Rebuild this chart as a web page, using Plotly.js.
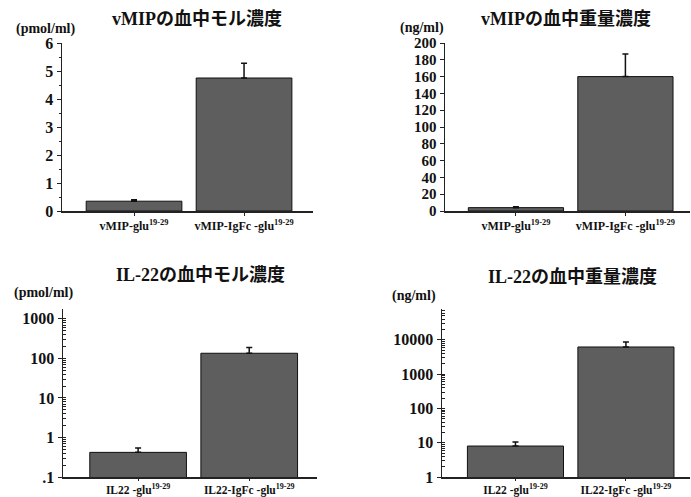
<!DOCTYPE html>
<html><head><meta charset="utf-8">
<script src="https://cdn.plot.ly/plotly-3.0.1.min.js"></script>
<style>html,body{margin:0;padding:0;background:#fff}#c{width:691px;height:497px}</style>
</head><body><div id="c"></div>
<script>
// ---- data ----
const vmipCats = ['vMIP-glu<sup>19-29</sup>', 'vMIP-IgFc -glu<sup>19-29</sup>'];
const il22Cats = ['IL22 -glu<sup>19-29</sup>', 'IL22-IgFc -glu<sup>19-29</sup>'];
const vmipMolar = [0.35, 4.75];
const vmipMolarErr = [0.05, 0.53];
const vmipMass = [4, 160];
const vmipMassErr = [1, 27];
const il22Molar = [0.42, 135];
const il22MolarErr = [0.12, 55];
const il22Mass = [8, 6200];
const il22MassErr = [2.5, 2400];
const titles = ['vMIPの血中モル濃度', 'vMIPの血中重量濃度', 'IL-22の血中モル濃度', 'IL-22の血中重量濃度'];
const units = ['(pmol/ml)', '(ng/ml)', '(pmol/ml)', '(ng/ml)'];
const linTicksMolar = [0, 1, 2, 3, 4, 5, 6];
const linTicksMass = [0, 20, 40, 60, 80, 100, 120, 140, 160, 180, 200];
const logTicksMolar = [0.1, 1, 10, 100, 1000];
const logTextMolar = ['.1', '1', '10', '100', '1000'];
const logTicksMass = [1, 10, 100, 1000, 10000];
const logTextMass = ['1', '10', '100', '1000', '10000'];

const W = 691, H = 497;
const serif = 'Liberation Serif, Noto Sans CJK JP, serif';
const barColor = '#5e5e5e';
const b = s => '<b>' + s + '</b>';

function barTrace(x, y, err, xa, ya) {
  return {
    type: 'bar', x: x, y: y, xaxis: xa, yaxis: ya, width: 0.87,
    marker: {color: barColor, line: {color: '#111', width: 1}},
    error_y: {type: 'data', symmetric: false, array: err, arrayminus: err.map(() => 0),
              color: '#111', thickness: 1.5, width: 3},
    hoverinfo: 'none', showlegend: false
  };
}

const data = [
  barTrace(vmipCats, vmipMolar, vmipMolarErr, 'x', 'y'),
  barTrace(vmipCats, vmipMass, vmipMassErr, 'x2', 'y2'),
  barTrace(il22Cats, il22Molar, il22MolarErr, 'x3', 'y3'),
  barTrace(il22Cats, il22Mass, il22MassErr, 'x4', 'y4')
];

const tickFont = {family: serif, size: 16, color: '#111', weight: 'bold'};
const catFont = {family: serif, size: 12, color: '#111', weight: 'bold'};

function xa(cats, d0, d1, r0, r1, anchor, extra) {
  return Object.assign({domain: [d0 / W, d1 / W], range: [r0, r1], anchor: anchor, type: 'category',
    tickvals: cats, ticktext: cats.map(b),
    showline: true, linecolor: '#222', linewidth: 1.5, ticks: 'outside', ticklen: 3,
    tickcolor: '#222', tickfont: catFont, showgrid: false, zeroline: false, fixedrange: true}, extra || {});
}
function ya(top, bottom, anchor, vals, texts, extra) {
  return Object.assign({domain: [1 - bottom / H, 1 - top / H], anchor: anchor,
    tickvals: vals, ticktext: texts.map(b),
    showline: true, linecolor: '#222', linewidth: 1.5, ticks: 'outside', ticklen: 4,
    tickcolor: '#222', tickfont: tickFont, showgrid: false, zeroline: false, fixedrange: true}, extra);
}

const bottomCat = {ticklen: 2, tickfont: Object.assign({}, catFont, {size: 11.5})};

const layout = {
  width: W, height: H, margin: {l: 0, r: 0, t: 0, b: 0},
  paper_bgcolor: '#fff', plot_bgcolor: 'rgba(0,0,0,0)', bargap: 0,
  xaxis: xa(vmipCats, 62, 313, -0.655, 1.627, 'y'),
  yaxis: ya(43, 211, 'x', linTicksMolar, linTicksMolar.map(String), {range: [0, 6],
    minor: {dtick: 0.5, ticks: 'outside', ticklen: 2, tickcolor: '#222'}}),
  xaxis2: xa(vmipCats, 445, 690, -0.648, 1.59, 'y2'),
  yaxis2: ya(43, 211, 'x2', linTicksMass, linTicksMass.map(String), {range: [0, 200],
    tickfont: Object.assign({}, tickFont, {size: 15})}),
  xaxis3: xa(il22Cats, 63, 317, -0.676, 1.61, 'y3', bottomCat),
  yaxis3: ya(309, 477, 'x3', logTicksMolar, logTextMolar, {type: 'log', range: [-1, 3.25],
    minor: {dtick: 'D1', ticks: 'inside', ticklen: 3, tickcolor: '#222'}}),
  xaxis4: xa(il22Cats, 442, 690, -0.665, 1.58, 'y4', bottomCat),
  yaxis4: ya(309, 477, 'x4', logTicksMass, logTextMass, {type: 'log', range: [0, 4.9],
    minor: {dtick: 'D1', ticks: 'inside', ticklen: 3, tickcolor: '#222'}}),
  annotations: []
};

const titlePos = [[197, 19], [566, 19], [201, 275], [572, 277]];
const unitPos = [[45, 29], [422, 28], [43, 293], [414, 296]];
for (let i = 0; i < 4; i++) {
  layout.annotations.push({text: b(titles[i]), x: titlePos[i][0] / W, y: 1 - titlePos[i][1] / H,
    xref: 'paper', yref: 'paper', showarrow: false, xanchor: 'center', yanchor: 'middle',
    font: {family: serif, size: 18, color: '#111', weight: 'bold'}});
  layout.annotations.push({text: b(units[i]), x: unitPos[i][0] / W, y: 1 - unitPos[i][1] / H,
    xref: 'paper', yref: 'paper', showarrow: false, xanchor: 'center', yanchor: 'middle',
    font: {family: serif, size: 14, color: '#111', weight: 'bold'}});
}

Plotly.newPlot('c', data, layout, {staticPlot: true, displayModeBar: false});
</script></body></html>
